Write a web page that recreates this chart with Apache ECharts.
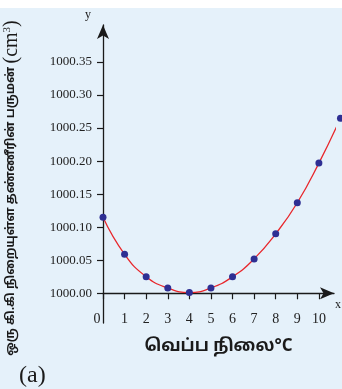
<!DOCTYPE html>
<html><head><meta charset="utf-8">
<script src="https://cdn.jsdelivr.net/npm/echarts@6/dist/echarts.min.js"></script>
<style>html,body{margin:0;padding:0;background:#e5f1fa}#c{width:342px;height:389px}</style>
</head><body><div id="c"></div>
<script>
const BASE = 1000;
const temps = [0,1,2,3,4,5,6,7,8,9,10,11];
const volumes = [1000.115,1000.059,1000.025,1000.008,1000.001,1000.008,1000.025,1000.052,1000.090,1000.137,1000.197,1000.265];
const xTicks = [0,1,2,3,4,5,6,7,8,9,10];
const yTicks = [1000.00,1000.05,1000.10,1000.15,1000.20,1000.25,1000.30,1000.35];
const xName = 'வெப்ப நிலை°C';
const yNameTa = 'ஒரு கி.கி நிறையுள்ள தண்ணீரின் பருமன் ';
const panel = '(a)';

const data = temps.map((t,i)=>[t, volumes[i]-BASE]);
const serif = '"Liberation Serif","DejaVu Serif",serif';
const tamil = '"Noto Sans Tamil","Lohit Tamil","Noto Sans","DejaVu Sans",sans-serif';

const G = {left:103,right:8,top:25,bottom:66};
const H = 389 - G.top - G.bottom;
const yMin = -0.045, yMax = 0.406;
const xOffset = -H*(0 - yMin)/(yMax - yMin);

const chart = echarts.init(document.getElementById('c'));
chart.setOption({
  backgroundColor:'#e5f1fa',
  animation:false,
  grid:{left:G.left,right:G.right,top:G.top,bottom:G.bottom,containLabel:false,outerBoundsMode:'none'},
  xAxis:{type:'value',min:0,max:10.7,position:'bottom',offset:xOffset,
    axisLine:{onZero:false,lineStyle:{color:'#1a1a1a',width:1.3},symbol:['none','arrow'],symbolSize:[9,14]},
    axisTick:{show:true,length:6,customValues:xTicks,lineStyle:{color:'#1a1a1a',width:1.2}},
    axisLabel:{customValues:xTicks,margin:19,fontFamily:serif,fontSize:14,color:'#222',
      formatter:v=>v===0?'{z|0}':String(v),rich:{z:{padding:[0,12,0,0],fontFamily:serif,fontSize:14,color:'#222'}}},
    splitLine:{show:false},
    name:xName,nameLocation:'middle',nameGap:46,
    nameTextStyle:{fontFamily:tamil,fontSize:17,fontWeight:'bold',color:'#1a1a1a'}
  },
  yAxis:{type:'value',min:yMin,max:yMax,
    axisLine:{onZero:false,lineStyle:{color:'#1a1a1a',width:1.3},symbol:['none','arrow'],symbolSize:[9,14]},
    axisTick:{show:true,length:6,customValues:yTicks.map(v=>v-BASE),lineStyle:{color:'#1a1a1a',width:1.2}},
    axisLabel:{customValues:yTicks.map(v=>v-BASE),margin:11,fontFamily:serif,fontSize:13,color:'#222',
      formatter:v=>(BASE+v).toFixed(2)},
    splitLine:{show:false}
  },
  series:[{type:'line',data:data,smooth:true,clip:false,
    lineStyle:{color:'#e8262b',width:1.3},
    symbol:'circle',symbolSize:7,
    itemStyle:{color:'#2e2f93',borderWidth:0}
  }],
  graphic:[
    {type:'rect',left:0,top:0,shape:{width:342,height:8},style:{fill:'#ffffff'},z:-1},
    {type:'text',x:88,y:15,style:{text:'y',font:'12px '+serif,fill:'#222',align:'center',verticalAlign:'middle'}},
    {type:'text',x:338,y:305,style:{text:'x',font:'12px '+serif,fill:'#222',align:'center',verticalAlign:'middle'}},
    {type:'text',x:12,y:188,rotation:Math.PI/2,style:{
      text:'{t|'+yNameTa+'}{p|(cm}{s|3}{p|)}',align:'center',verticalAlign:'middle',
      rich:{t:{fontFamily:tamil,fontSize:12,fontWeight:'bold',fill:'#1a1a1a'},
            p:{fontFamily:serif,fontSize:20,fill:'#1a1a1a'},
            s:{fontFamily:serif,fontSize:11,fill:'#1a1a1a',verticalAlign:'top',padding:[0,0,8,0]}}}},
    {type:'text',x:19,y:376,style:{text:panel,font:'24px '+serif,fill:'#1a1a1a',align:'left',verticalAlign:'middle'}}
  ]
});
</script></body></html>
